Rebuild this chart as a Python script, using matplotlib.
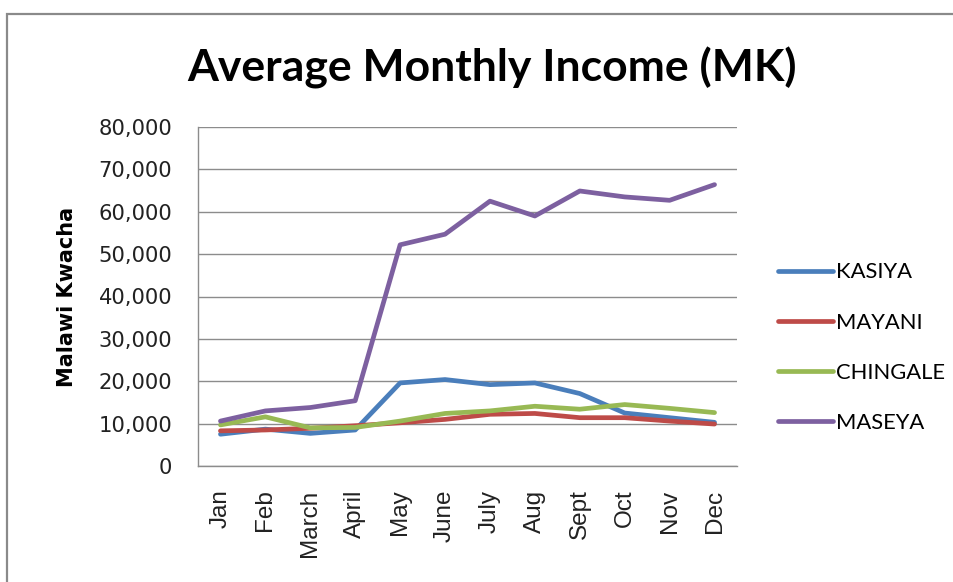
import matplotlib
matplotlib.use("Agg")
import matplotlib.pyplot as plt
from matplotlib.patches import Rectangle

months = ["Jan", "Feb", "March", "April", "May", "June", "July", "Aug", "Sept", "Oct", "Nov", "Dec"]
kasiya = [7500, 8700, 7700, 8500, 19600, 20400, 19200, 19600, 17100, 12500, 11400, 10300]
mayani = [8300, 8500, 8900, 9500, 10200, 11000, 12200, 12400, 11400, 11400, 10600, 9900]
chingale = [9700, 11600, 9000, 9100, 10600, 12400, 13000, 14100, 13400, 14500, 13600, 12600]
maseya = [10600, 13000, 13800, 15400, 52200, 54700, 62500, 59000, 64900, 63500, 62700, 66400]
series_names = ["KASIYA", "MAYANI", "CHINGALE", "MASEYA"]
series_colors = ["#4A7EBB", "#BE4B48", "#98B954", "#7D60A0"]
yticks = [0, 10000, 20000, 30000, 40000, 50000, 60000, 70000, 80000]

fig = plt.figure(figsize=(9.54, 5.82), dpi=100)
fig.patch.set_facecolor("white")
fig.patches.append(Rectangle((7/954, -0.1), 1.2, 1 - 14/582 + 0.1, transform=fig.transFigure,
                             fill=False, edgecolor="#8a8a8a", linewidth=1.6))

ax = fig.add_axes([198/954, 1 - 466/582, (737 - 198)/954, (466 - 127)/582])
x = list(range(len(months)))
for vals, name, col in zip([kasiya, mayani, chingale, maseya], series_names, series_colors):
    ax.plot(x, vals, color=col, lw=3.4, label=name, solid_capstyle="round", solid_joinstyle="round")

ax.set_xlim(-0.5, len(months) - 0.5)
ax.set_ylim(0, 80000)
ax.set_yticks(yticks)
ax.set_yticklabels([f"{v:,}" for v in yticks], fontfamily="DejaVu Sans", fontsize=15.2, color="#222222")
ax.set_xticks(x)
ax.set_xticklabels(months, rotation=90, fontfamily="Liberation Sans", fontsize=17.5, color="#222222")
ax.tick_params(axis="both", length=0)
ax.tick_params(axis="y", pad=18.5)
ax.tick_params(axis="x", pad=17)
ax.grid(axis="y", color="#8c8c8c", lw=1.0)
ax.set_axisbelow(True)
for s in ["top", "right"]:
    ax.spines[s].set_visible(False)
for s in ["left", "bottom"]:
    ax.spines[s].set_color("#8c8c8c")
    ax.spines[s].set_linewidth(1.0)

ax.set_ylabel("Malawi Kwacha", fontfamily="DejaVu Sans", fontweight="bold", fontsize=15)
ax.yaxis.set_label_coords(-0.224, 0.5)

fig.text(492/954, 1 - 68/582, "Average Monthly Income (MK)", ha="center", va="center",
         fontfamily="Lato", fontweight="bold", fontsize=32)

leg = ax.legend(loc="upper left", bbox_to_anchor=(778/954, 1 - 262.5/582), bbox_transform=fig.transFigure,
                frameon=False, prop={"family": "Lato", "size": 15.8}, handlelength=2.5,
                handletextpad=0.14, labelspacing=1.37, borderpad=0, borderaxespad=0)

fig.savefig("out.png", dpi=100)
